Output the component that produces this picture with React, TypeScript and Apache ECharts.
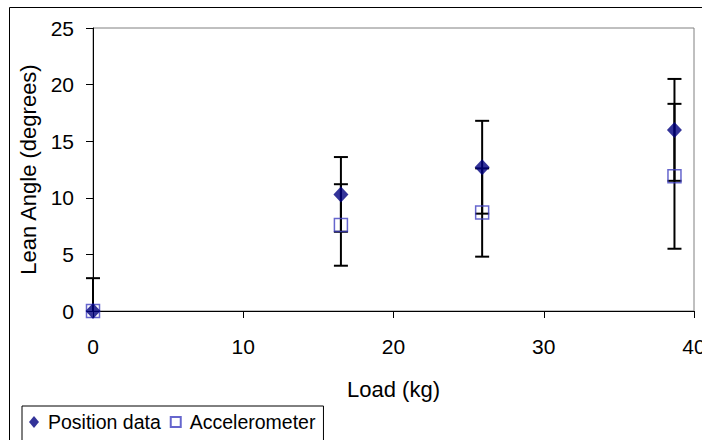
import React, { useEffect, useRef } from "react";
import * as echarts from "echarts";

const loads = [0, 16.5, 25.9, 38.7];
const positionData = [0, 10.3, 12.7, 16.0];
const positionLow = [0, 7.0, 8.6, 11.5];
const positionHigh = [2.9, 13.6, 16.8, 20.5];
const accelData = [0, 7.6, 8.7, 11.9];
const accelLow = [0, 4.0, 4.8, 5.5];
const accelHigh = [0, 11.2, 12.6, 18.3];
const xTicks = [0, 10, 20, 30, 40];
const yTicks = [0, 5, 10, 15, 20, 25];

const FONT = '"Liberation Sans", Arial, sans-serif';
const NAVY = "#000080";
const BLUE = "#4040c0";

function errRender(params: any, api: any) {
  const x = api.value(0);
  const y = api.value(1);
  const lo = api.value(2);
  const hi = api.value(3);
  const style = { stroke: "#000", lineWidth: 2 };
  const hw = 7;
  const children: any[] = [];
  const pLo = api.coord([x, lo]);
  const pHi = api.coord([x, hi]);
  if (hi > lo) {
    children.push({ type: "line", shape: { x1: pLo[0], y1: pLo[1], x2: pHi[0], y2: pHi[1] }, style });
  }
  if (lo < y) {
    children.push({ type: "line", shape: { x1: pLo[0] - hw, y1: pLo[1], x2: pLo[0] + hw, y2: pLo[1] }, style });
  }
  if (hi > y) {
    children.push({ type: "line", shape: { x1: pHi[0] - hw, y1: pHi[1], x2: pHi[0] + hw, y2: pHi[1] }, style });
  }
  return { type: "group", children };
}

export default function App() {
  const ref = useRef<HTMLDivElement>(null);
  useEffect(() => {
    if (!ref.current) return;
    const chart = echarts.init(ref.current, null, { renderer: "svg" });
    const posErr = loads.map((x, i) => [x, positionData[i], positionLow[i], positionHigh[i]]);
    const accErr = loads.map((x, i) => [x, accelData[i], accelLow[i], accelHigh[i]]);
    chart.setOption({
      animation: false,
      backgroundColor: "#ffffff",
      textStyle: { fontFamily: FONT },
      grid: {
        left: 93,
        top: 28,
        right: 8,
        bottom: 129,
        show: true,
        borderColor: "#808080",
        borderWidth: 1,
        backgroundColor: "transparent",
        containLabel: false,
        outerBoundsMode: "none",
      },
      graphic: [
        {
          type: "rect",
          shape: { x: 9.5, y: 7.5, width: 900, height: 600 },
          style: { fill: "none", stroke: "#000", lineWidth: 1 },
          silent: true,
          z: -1,
        },
      ],
      legend: {
        left: 22,
        top: 406,
        orient: "horizontal",
        backgroundColor: "#fff",
        borderColor: "#000",
        borderWidth: 1,
        padding: [6, 8, 20, 7],
        itemGap: 9,
        itemWidth: 10,
        itemHeight: 12,
        textStyle: { fontFamily: FONT, fontSize: 19.5, color: "#000", padding: [0, 0, 0, 4] },
        data: [
          { name: "Position data", icon: "diamond" },
          { name: "Accelerometer", icon: "path://M0,0L10,0L10,10L0,10Z" },
        ],
      },
      xAxis: {
        type: "value",
        min: xTicks[0],
        max: xTicks[xTicks.length - 1],
        interval: 10,
        name: "Load (kg)",
        nameLocation: "middle",
        nameGap: 67,
        nameTextStyle: { fontFamily: FONT, fontSize: 22, color: "#000" },
        axisLine: { show: true, onZero: false, lineStyle: { color: "#000", width: 1 } },
        axisTick: { show: true, length: 7, inside: false, lineStyle: { color: "#000" } },
        axisLabel: { fontFamily: FONT, fontSize: 21, color: "#000", margin: 25 },
        splitLine: { show: false },
      },
      yAxis: {
        type: "value",
        min: yTicks[0],
        max: yTicks[yTicks.length - 1],
        interval: 5,
        name: "Lean Angle (degrees)",
        nameLocation: "middle",
        nameRotate: 90,
        nameGap: 52,
        nameTextStyle: { fontFamily: FONT, fontSize: 22, color: "#000" },
        axisLine: { show: true, onZero: false, lineStyle: { color: "#000", width: 1 } },
        axisTick: { show: true, length: 7, inside: false, lineStyle: { color: "#000" } },
        axisLabel: { fontFamily: FONT, fontSize: 21, color: "#000", margin: 19 },
        splitLine: { show: false },
      },
      series: [
        {
          type: "custom",
          name: "posErr",
          renderItem: errRender,
          data: posErr,
          clip: false,
          z: 1,
          encode: { x: 0, y: 1 },
        },
        {
          type: "custom",
          name: "accErr",
          renderItem: errRender,
          data: accErr,
          clip: false,
          z: 1,
          encode: { x: 0, y: 1 },
        },
        {
          type: "scatter",
          name: "Accelerometer",
          symbol: "rect",
          symbolSize: 13,
          data: loads.map((x, i) => [x, accelData[i]]),
          itemStyle: { color: "rgba(255,255,255,0)", borderColor: BLUE, borderWidth: 1.5 },
          z: 3,
        },
        {
          type: "scatter",
          name: "Position data",
          symbol: "diamond",
          symbolSize: [15, 16],
          data: loads.map((x, i) => [x, positionData[i]]),
          itemStyle: { color: NAVY },
          z: 4,
        },
      ],
    });
    return () => chart.dispose();
  }, []);
  return (
    <div
      ref={ref}
      style={{ position: "fixed", left: 0, top: 0, width: 702, height: 440, background: "#fff" }}
    />
  );
}
